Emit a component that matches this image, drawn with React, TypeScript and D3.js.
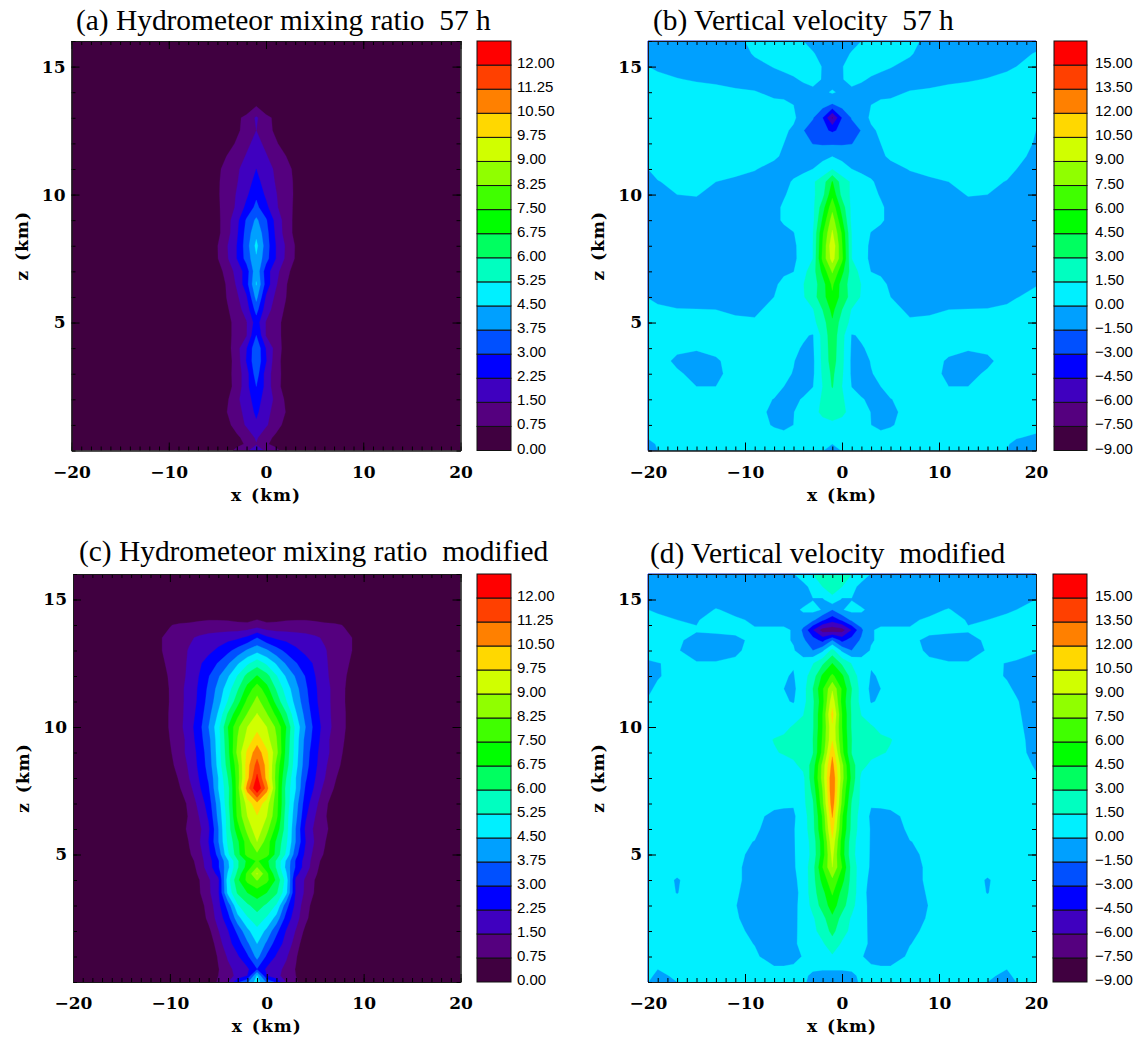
import React, {useRef, useEffect} from 'react';
import * as d3 from 'd3';

// shared colour table, one colour per level, dark purple up to red
const bandColors = ['#400040', '#55007f', '#3f00bf', '#0000ff', '#0050ff', '#00a0ff', '#00f0ff', '#00ffc0', '#00ff60', '#00ff00', '#40ff00', '#90ff00', '#d0ff00', '#ffd800', '#ff8000', '#ff4000', '#ff0000'];
const mixingLevels = [0, 0.75, 1.5, 2.25, 3, 3.75, 4.5, 5.25, 6, 6.75, 7.5, 8.25, 9, 9.75, 10.5, 11.25, 12];
const velocityLevels = [-9, -7.5, -6, -4.5, -3, -1.5, 0, 1.5, 3, 4.5, 6, 7.5, 9, 10.5, 12, 13.5, 15];

const xMajorTicks = [-20, -10, 0, 10, 20];
const zMajorTicks = [5, 10, 15];
const xMinorTicks = d3.range(-20, 21);
const zMinorTicks = d3.range(0, 17);

// The fields are symmetric about x = -1 km, so each row lists values going outward from that axis.
// Columns are the distance from the axis in km, rows are heights in km. A short row is zero beyond its end.
const mixingAOffsets = [0, 1, 2, 3, 4, 5, 19, 21];
const mixingAHeights = [0, 0.25, 0.5, 1, 1.5, 2, 2.5, 3, 3.5, 4, 4.5, 5, 5.5, 6, 6.5, 7, 7.5, 8, 8.5, 9, 9.5, 10, 10.5, 11, 11.5, 12, 12.5, 13, 13.5, 14, 16];
const mixingAValues = [
	[1.8, 1.4, 1, 0.35],
	[1.45, 0.85, 0.5, 0.2],
	[1.6, 1, 0.6, 0.2],
	[2.1, 1.6, 1.05, 0.55],
	[2.4, 1.75, 1.2, 0.75, 0.3],
	[2.5, 2, 1.3, 0.65, 0.2],
	[3, 2, 1, 0.5],
	[3.4, 1.9, 1.1, 0.45],
	[3.6, 2.3, 1.05, 0.45],
	[3.6, 2.2, 1.2, 0.45],
	[3, 1.45, 1.1, 0.45],
	[2.6, 1.45, 1.1, 0.45],
	[3.3, 1.8, 1.2, 0.65],
	[4, 2.15, 1.35, 0.8, 0.1],
	[4.55, 2.7, 1.6, 0.85, 0.2],
	[4.3, 2.6, 1.75, 1.05, 0.4],
	[4.4, 3.3, 2.25, 1.4, 0.7],
	[4.7, 3.4, 2.25, 1.45, 0.72],
	[4.3, 3.3, 2.1, 1.2, 0.55],
	[3.9, 3.1, 2, 1.2, 0.55],
	[3.2, 2.45, 1.6, 1.15, 0.6],
	[2.85, 2.1, 1.55, 1.1, 0.65],
	[2.5, 1.9, 1.45, 1.05, 0.65],
	[2.25, 1.75, 1.4, 1, 0.6],
	[1.95, 1.55, 1.2, 0.78, 0.3],
	[1.7, 1.35, 0.85, 0.4],
	[1.5, 1.05, 0.6],
	[1.6, 1, 0.55],
	[0.65],
	[0],
	[0],
];

const mixingCOffsets = [0, 1, 2, 3, 4, 5, 6, 7, 8, 9, 10, 12, 19, 21];
const mixingCHeights = [0, 0.25, 0.5, 1, 1.5, 2, 2.5, 3, 3.5, 4, 4.25, 4.5, 4.75, 5, 5.5, 6, 6.5, 7, 7.6, 8, 8.5, 9, 9.5, 10, 10.5, 11, 11.5, 12, 12.5, 13, 13.5, 14, 14.3, 14.5, 16];
const mixingCValues = [
	[4.9, 3.6, 2.8, 1.45, 0.85, 0.3],
	[4.6, 2.25, 1.7, 1.2, 0.75],
	[2.95, 2.1, 1.75, 1.3, 0.7],
	[4, 2.85, 2.15, 1.6, 0.85],
	[4.5, 3.6, 2.6, 2, 1.15, 0.2],
	[5.05, 4.3, 3.2, 2.2, 1.45, 0.55],
	[5.65, 5.15, 4.2, 2.7, 1.8, 0.95, 0.2],
	[6.35, 5.85, 5.15, 3.3, 2, 1.05, 0.4],
	[7.1, 6.75, 6.1, 4.7, 2.1, 1.35, 0.65],
	[8.3, 7.7, 6.6, 4.9, 2.05, 1.4, 0.7],
	[9.1, 7.7, 6.2, 4.6, 2.5, 1.6, 0.9, 0.1],
	[8.25, 7.05, 5.9, 4.3, 2.9, 1.85, 1.05, 0.2],
	[7.6, 6.9, 5.9, 4.4, 2.9, 1.9, 1.1, 0.4],
	[8.1, 7.8, 6.45, 5.1, 3.25, 2.05, 1.2, 0.65],
	[9, 7.9, 6.6, 5.4, 3.7, 2.25, 1.4, 0.8],
	[9.5, 8.5, 7.2, 5.6, 3.7, 2.1, 1.3, 0.95, 0.35],
	[9.7, 9, 7.7, 5.6, 3.95, 2.35, 1.5, 0.85, 0.2],
	[10.3, 9.3, 7.8, 5.8, 4.1, 2.6, 1.7, 0.95, 0.3],
	[12.7, 10.9, 7.9, 5.75, 4.5, 2.9, 2.1, 1.25, 0.7, 0.1],
	[12.2, 10.2, 7.9, 6, 4.5, 3.1, 2.25, 1.5, 0.85, 0.3],
	[11.55, 10.2, 8, 6.35, 4.75, 3.3, 2.4, 1.6, 1.1, 0.5],
	[10.95, 9.9, 8.5, 6.5, 4.85, 3.4, 2.45, 1.75, 1.2, 0.65, 0.1],
	[10.15, 9.3, 8.3, 6.6, 4.9, 3.5, 2.65, 1.75, 1.2, 0.75, 0.15],
	[9.5, 9, 8.1, 6.75, 5, 3.75, 2.7, 1.9, 1.3, 0.85, 0.15],
	[9.05, 8.3, 7.3, 6.1, 4.6, 3.5, 2.55, 1.8, 1.3, 0.85, 0.15],
	[8.5, 7.7, 6.45, 5.3, 4.2, 3.3, 2.4, 1.75, 1.3, 0.8, 0.15],
	[7.95, 7, 5.9, 4.9, 4, 3.15, 2.35, 1.75, 1.3, 0.8, 0.25],
	[6.8, 6.25, 5.3, 4.4, 3.65, 2.95, 2.25, 1.65, 1.25, 0.85, 0.4],
	[5.65, 5.1, 4.4, 3.65, 3.05, 2.6, 2.1, 1.6, 1.25, 0.95, 0.55],
	[4.25, 3.85, 3.3, 2.8, 2.4, 2.05, 1.8, 1.55, 1.25, 0.95, 0.7],
	[3, 2.4, 2.1, 2, 1.85, 1.75, 1.6, 1.4, 1.15, 0.95, 0.7],
	[1.1, 0.9, 0.92, 0.95, 0.98, 1, 0.98, 0.95, 0.9, 0.7, 0.3],
	[0.6, 0.45, 0.5, 0.6, 0.6, 0.6, 0.5, 0.3, 0.1],
	[0],
	[0],
];

const velocityOffsets = [0, 1, 2, 3, 4, 5, 6, 8, 10, 12, 14, 16, 18, 19, 21];
const velocityBHeights = [0, 0.25, 0.5, 1, 1.5, 2, 2.5, 3, 3.5, 4, 4.5, 5, 5.5, 6, 6.5, 7, 7.5, 8, 8.5, 9, 9.5, 10, 10.5, 11, 11.5, 12, 12.5, 13, 13.5, 14, 14.5, 15, 15.5, 16];
const velocityBValues = [
	[-0.4, 0.05, 0.3, 0.3, 0.3, 0.3, 0.3, 0.2, 0.25, 0.25, 0.25, 0.1, 0, -0.4, -0.5],
	[0, 0.3, 0.3, 0.3, 0.3, 0.3, 0.3, 0.2, 0.3, 0.3, 0.3, 0.2, 0.05, -0.15, -0.3],
	[0.5, 0.4, 0.3, 0.25, 0.2, 0.2, 0.2, 0.2, 0.3, 0.3, 0.3, 0.3, 0.1, 0.03, -0.1],
	[1.1, 0.8, 0.5, 0.25, 0, -0.15, -0.05, 0.2, 0.3, 0.35, 0.4, 0.4, 0.35, 0.3, 0.2],
	[2.3, 1.95, 0.8, 0.25, -0.02, -0.2, -0.2, 0.3, 0.25, 0.3, 0.35, 0.35, 0.35, 0.4, 0.5],
	[2.3, 1.7, 0.7, 0.08, -0.2, -0.2, -0.02, 0.2, 0.25, 0.2, 0.25, 0.3, 0.3, 0.4, 0.5],
	[3.1, 1.5, -0.05, -0.35, -0.2, 0, 0.2, 0.3, 0.2, 0, 0, 0.2, 0.3, 0.4, 0.5],
	[3.3, 1.7, -0.25, -0.4, -0.05, 0.2, 0.25, 0.3, 0.1, -0.06, -0.2, 0.1, 0.3, 0.4, 0.6],
	[3.7, 1.85, -0.3, -0.4, 0.05, 0.25, 0.3, 0.3, 0.15, -0.05, -0.2, -0.15, 0.3, 0.5, 0.7],
	[3.8, 1.9, -0.2, -0.1, 0.2, 0.3, 0.3, 0.25, 0.2, 0.1, 0.05, 0.15, 0.35, 0.5, 0.7],
	[3.9, 2, -0.1, 0.15, 0.3, 0.4, 0.4, 0.2, 0.2, 0.15, 0.15, 0.15, 0.35, 0.5, 0.7],
	[4.3, 2.3, 1.1, 0.8, 0.6, 0.4, 0.2, 0.1, 0.12, 0.15, 0.2, 0.2, 0.3, 0.4, 0.6],
	[4.9, 3, 1.4, 0.9, 0.7, 0.5, 0.25, -0.15, -0.1, 0, 0.03, 0.05, 0.15, 0.25, 0.4],
	[5.7, 3.9, 2.4, 1.35, 0.9, 0.45, 0, -0.4, -0.5, -0.5, -0.5, -0.45, -0.2, -0.03, 0.2],
	[6.3, 3.8, 2.3, 1.45, 0.9, 0.3, -0.2, -0.5, -0.6, -0.6, -0.6, -0.6, -0.4, -0.25, -0.05],
	[7.7, 4.9, 2.3, 1, -0.05, -0.2, -0.3, -0.55, -0.6, -0.7, -0.7, -0.7, -0.6, -0.4, -0.2],
	[9.7, 6.4, 1.5, 0.4, -0.2, -0.4, -0.5, -0.6, -0.7, -0.7, -0.7, -0.7, -0.7, -0.6, -0.4],
	[10.2, 6.1, 1.5, 0.45, -0.2, -0.4, -0.5, -0.6, -0.7, -0.7, -0.7, -0.7, -0.7, -0.6, -0.4],
	[9.2, 5.8, 1.4, 0.6, -0.05, -0.3, -0.5, -0.6, -0.7, -0.7, -0.7, -0.7, -0.7, -0.6, -0.4],
	[8.3, 4.7, 1.1, 0.7, 0.5, 0.15, -0.3, -0.6, -0.7, -0.7, -0.7, -0.7, -0.7, -0.6, -0.4],
	[7, 3.8, 1.1, 0.8, 0.5, 0.15, -0.3, -0.6, -0.7, -0.6, -0.3, -0.3, -0.5, -0.6, -0.5],
	[5.6, 2.5, 1.2, 0.8, 0.3, -0.1, -0.5, -0.6, -0.7, -0.3, 0.05, 0, -0.2, -0.3, -0.5],
	[4.6, 2.2, 1.3, 0.7, 0.15, -0.4, -0.5, -0.3, -0.1, 0, 0.2, 0.15, -0.03, -0.15, -0.45],
	[1.4, 0.6, 0, -0.4, -0.5, -0.5, -0.3, 0.05, 0.15, 0.2, 0.3, 0.3, 0.2, 0, -0.35],
	[-0.05, -0.4, -0.7, -0.7, -0.55, -0.15, 0.15, 0.3, 0.3, 0.4, 0.5, 0.45, 0.4, 0.25, -0.25],
	[-1.7, -1.7, -1.55, -1, -0.5, 0, 0.2, 0.5, 0.5, 0.5, 0.6, 0.6, 0.6, 0.45, -0.1],
	[-3.2, -2.7, -2.1, -1.45, -0.2, 0.2, 0.3, 0.5, 0.6, 0.6, 0.6, 0.7, 0.8, 0.7, 0],
	[-6.3, -3, -1.4, -0.6, 0.2, 0.35, 0.35, 0.5, 0.6, 0.6, 0.6, 0.7, 0.9, 0.9, 0.3],
	[-1.7, -1, -0.9, -0.6, 0, 0.15, 0.2, 0.3, 0.4, 0.5, 0.5, 0.7, 0.9, 1, 0.6],
	[0.2, -0.4, -0.2, -0.3, -0.4, -0.2, -0.2, 0.05, 0.15, 0.3, 0.4, 0.6, 0.8, 0.9, 0.9],
	[-0.9, -0.05, 0.25, 0.1, -0.1, -0.2, -0.4, -0.4, -0.35, -0.2, -0.1, 0.05, 0.3, 0.5, 1],
	[-0.8, -0.05, 0.35, 0.4, 0.3, 0.15, 0.05, -0.3, -0.6, -0.6, -0.5, -0.4, -0.2, 0, 0.5],
	[-0.8, -0.2, 0.05, 0.25, 0.4, 0.4, 0.4, 0.1, -0.5, -0.7, -0.7, -0.6, -0.4, -0.2, 0.05],
	[-0.8, -0.3, -0.2, 0, 0.3, 0.4, 0.5, 0.3, -0.3, -0.7, -0.8, -0.8, -0.6, -0.5, -0.3],
];

const velocityDHeights = [0, 0.25, 0.5, 1, 1.5, 2, 2.5, 3, 3.5, 4, 4.5, 5, 5.5, 6, 6.5, 7, 7.5, 8, 8.5, 9, 9.5, 10, 10.5, 11, 11.5, 12, 12.5, 13, 13.4, 13.8, 14.2, 14.6, 15, 15.5, 16];
const velocityDValues = [
	[-0.5, -0.5, -0.2, 0.1, 0.2, 0.2, 0.2, 0.2, 0.2, 0.2, 0.2, 0, -0.4, 0.02, 0.2],
	[-0.3, -0.3, -0.1, 0.1, 0.15, 0.15, 0.15, 0.2, 0.2, 0.2, 0.2, 0.15, -0.2, 0.2, 0.2],
	[0.05, 0.05, 0.05, 0.2, 0.1, 0.1, 0.1, 0.2, 0.2, 0.2, 0.2, 0.25, 0, 0.3, 0.3],
	[1.3, 0.8, 0.4, 0.03, -0.15, -0.3, -0.3, 0.1, 0.3, 0.3, 0.3, 0.3, 0.3, 0.3, 0.3],
	[2.4, 1.3, 0.9, 0.25, -0.15, -0.4, -0.5, -0.02, 0.2, 0.3, 0.3, 0.3, 0.3, 0.3, 0.3],
	[3.4, 2.1, 1.1, 0.3, -0.2, -0.5, -0.6, -0.2, 0.2, 0.3, 0.3, 0.3, 0.3, 0.3, 0.3],
	[4.2, 2.5, 1.3, 0.35, -0.25, -0.6, -0.7, -0.4, 0.1, 0.3, 0.3, 0.3, 0.3, 0.3, 0.3],
	[5.2, 3.6, 2, 0.4, -0.3, -0.6, -0.6, -0.3, 0.02, 0.25, 0.25, 0.2, 0.25, 0.3, 0.3],
	[6.2, 4, 2.4, 0.4, -0.4, -0.6, -0.6, -0.2, 0.05, 0.25, 0.25, -0.02, 0.25, 0.3, 0.3],
	[7.2, 5, 2.4, 0.5, -0.3, -0.6, -0.6, -0.2, 0.1, 0.25, 0.25, -0.05, 0.25, 0.3, 0.3],
	[9, 6, 2.4, 0.6, -0.15, -0.6, -0.6, -0.2, 0.1, 0.25, 0.25, 0.2, 0.25, 0.3, 0.3],
	[9.5, 5.2, 2, 0.5, -0.1, -0.5, -0.5, -0.1, 0.1, 0.25, 0.25, 0.25, 0.25, 0.3, 0.3],
	[10.2, 5.3, 2.1, 0.6, -0.1, -0.5, -0.5, -0.02, 0.15, 0.25, 0.25, 0.25, 0.25, 0.3, 0.3],
	[11.2, 6, 2.5, 0.7, -0.1, -0.4, -0.4, 0.15, 0.2, 0.25, 0.25, 0.25, 0.25, 0.3, 0.3],
	[12.1, 6.2, 2.6, 0.75, -0.2, -0.25, -0.2, 0.2, 0.2, 0.25, 0.25, 0.25, 0.25, 0.3, 0.3],
	[13, 7.1, 2.8, 1.1, 0.1, 0.15, 0.2, 0.3, 0.3, 0.3, 0.3, 0.3, 0.3, 0.3, 0.3],
	[13.5, 7.5, 3.4, 1.1, 0.7, 0.5, 0.4, 0.3, 0.3, 0.3, 0.3, 0.3, 0.3, 0.3, 0.2],
	[13.4, 8.1, 4, 1.1, 0.8, 0.6, 0.4, 0.3, 0.3, 0.3, 0.3, 0.3, 0.3, 0.2, 0.05],
	[12.6, 8, 3.6, 1.9, 1.2, 0.6, 0.3, 0.3, 0.3, 0.3, 0.3, 0.3, 0.3, 0.2, -0.05],
	[11.7, 6.5, 2.9, 2.2, 1.9, 1.7, 1.3, 0.3, 0.3, 0.3, 0.3, 0.3, 0.3, 0.2, -0.2],
	[10.4, 6.2, 3, 2.2, 2, 1.85, 1.6, 0.3, 0.3, 0.3, 0.3, 0.3, 0.3, 0.2, -0.25],
	[10.3, 6, 2.8, 1.9, 1.7, 1, 0.6, 0.2, 0.3, 0.3, 0.3, 0.3, 0.25, 0.15, -0.3],
	[11, 6, 2.8, 1.45, 0.6, 0.5, 0.4, 0.3, 0.3, 0.3, 0.3, 0.3, 0.2, 0.1, -0.35],
	[10, 5.5, 2.7, 1, -0.1, 0.15, 0.3, 0.3, 0.3, 0.3, 0.3, 0.25, 0.15, 0.05, -0.4],
	[8.8, 5.8, 3, 0.9, -0.3, 0, 0.3, 0.3, 0.3, 0.3, 0.3, 0.2, 0.1, -0.1, -0.4],
	[6.3, 4.8, 2.2, 0.9, -0.1, 0.1, 0.3, 0.3, 0.25, 0.25, 0.25, 0.2, -0.05, -0.2, -0.4],
	[4.5, 2.7, 1.4, 0.6, 0.1, 0.3, 0.3, 0.3, 0.1, 0.05, 0.05, 0.1, -0.02, -0.05, -0.2],
	[2, -0.3, -1.5, -0.7, 0.1, 0.3, 0.2, 0.2, -0.1, -0.3, -0.3, 0.05, 0.3, 0.15, 0.05],
	[-1.5, -3.5, -2.3, -1.3, -0.1, 0.2, 0.2, 0.2, -0.2, -0.2, -0.2, 0.1, 0.4, 0.6, 0.8],
	[-7, -6.7, -4.5, -1.8, -0.05, 0.1, 0.1, 0.05, 0.2, 0.1, 0.05, 0.2, 0.4, 0.5, 0.8],
	[-3.9, -2.8, -1.2, -0.6, -0.2, -0.2, -0.2, -0.1, 0.1, 0.3, -0.06, 0, 0.15, 0.2, 0.5],
	[-1.5, -0.1, 0.4, 0.2, -0.4, -0.6, -0.5, -0.3, -0.2, 0.05, -0.4, -0.2, -0.1, 0, 0.3],
	[1.1, -0.2, -0.05, -0.6, -0.9, -0.9, -0.8, -0.6, -0.5, -0.4, -0.6, -0.5, -0.4, -0.3, 0],
	[2.2, 1.5, 0.4, -0.4, -0.7, -0.8, -0.8, -0.7, -0.7, -0.6, -0.7, -0.6, -0.6, -0.5, -0.3],
	[2.6, 2.2, 1.5, 0.7, -0.05, -0.4, -0.6, -0.7, -0.7, -0.7, -0.7, -0.7, -0.7, -0.6, -0.5],
];

const panels = [
	{title: '(a) Hydrometeor mixing ratio  57 h', titleX: 76, titleY: 30, left: 71.5, right: 460.5, top: 41, bottom: 450.5, barLeft: 477, barRight: 511, labelX: 517, levels: mixingLevels, offsets: mixingAOffsets, heights: mixingAHeights, values: mixingAValues},
	{title: '(b) Vertical velocity  57 h', titleX: 653, titleY: 30, left: 648, right: 1036, top: 41, bottom: 450.5, barLeft: 1054, barRight: 1087, labelX: 1095, levels: velocityLevels, offsets: velocityOffsets, heights: velocityBHeights, values: velocityBValues},
	{title: '(c) Hydrometeor mixing ratio  modified', titleX: 79, titleY: 561, left: 73, right: 460.5, top: 574, bottom: 982, barLeft: 477, barRight: 511, labelX: 517, levels: mixingLevels, offsets: mixingCOffsets, heights: mixingCHeights, values: mixingCValues},
	{title: '(d) Vertical velocity  modified', titleX: 650, titleY: 563, left: 648, right: 1036, top: 574, bottom: 982, barLeft: 1053, barRight: 1087, labelX: 1095, levels: velocityLevels, offsets: velocityOffsets, heights: velocityDHeights, values: velocityDValues},
];

const axisFont = '"DejaVu Serif", serif';
const AXIS_CENTER = -1;

// mirror the half table into a full grid, left edge is 19 km from the axis and right edge 21 km
function buildGrid(panel) {
	const leftOffsets = panel.offsets.filter(o => o > 0 && o <= 19).reverse();
	const rightOffsets = panel.offsets;
	const xs = [...leftOffsets.map(o => AXIS_CENTER - o), ...rightOffsets.map(o => AXIS_CENTER + o)];
	const grid = [];
	panel.values.forEach(row => {
		const at = o => row[panel.offsets.indexOf(o)] ?? 0;
		leftOffsets.forEach(o => grid.push(at(o)));
		rightOffsets.forEach(o => grid.push(at(o)));
	});
	return {xs, grid};
}

// grid node i sits at i + 0.5 in d3.contours space, so the half cells at the rim collapse on the edge
function nodeScale(nodes, outer) {
	const domain = [0, ...nodes.map((_, i) => i + 0.5), nodes.length];
	const range = [nodes[0], ...nodes, nodes[nodes.length - 1]];
	return d3.scaleLinear().domain(domain).range(range.map(outer));
}

function drawPanel(root, panel) {
	const xScale = d3.scaleLinear().domain([-20, 20]).range([panel.left, panel.right]);
	const zScale = d3.scaleLinear().domain([0, 16]).range([panel.bottom, panel.top]);
	const {xs, grid} = buildGrid(panel);
	const nx = xs.length;
	const nz = panel.heights.length;
	const colMap = nodeScale(xs, xScale);
	const rowMap = nodeScale(panel.heights, zScale);
	const color = d3.scaleOrdinal(panel.levels, bandColors);

	const g = root.append('g');

	// 1. filled contours, painted from the lowest level up
	const contours = d3.contours().size([nx, nz]).thresholds(panel.levels.slice(1))(grid);
	const path = d3.geoPath(d3.geoTransform({
		point(x, y) {
			this.stream.point(colMap(x), rowMap(y));
		},
	}));
	g.append('rect')
		.attr('x', panel.left)
		.attr('y', panel.top)
		.attr('width', panel.right - panel.left)
		.attr('height', panel.bottom - panel.top)
		.attr('fill', bandColors[0]);
	g.selectAll('.band')
		.data(contours)
		.join('path')
		.attr('d', path)
		.attr('fill', d => color(d.value))
		.attr('stroke', d => color(d.value))
		.attr('stroke-width', 0.3);

	// 2. axes on all four sides, ticks pointing into the plot
	const sides = [
		{axis: d3.axisBottom(xScale), at: `translate(0, ${panel.bottom})`, major: xMajorTicks, minor: xMinorTicks, labelled: true},
		{axis: d3.axisTop(xScale), at: `translate(0, ${panel.top})`, major: xMajorTicks, minor: xMinorTicks, labelled: false},
		{axis: d3.axisLeft(zScale), at: `translate(${panel.left}, 0)`, major: zMajorTicks, minor: zMinorTicks, labelled: true},
		{axis: d3.axisRight(zScale), at: `translate(${panel.right}, 0)`, major: zMajorTicks, minor: zMinorTicks, labelled: false},
	];
	sides.forEach(side => {
		g.append('g')
			.attr('transform', side.at)
			.call(side.axis.tickValues(side.minor).tickSizeInner(-4).tickSizeOuter(0).tickFormat(() => ''));
		g.append('g')
			.attr('transform', side.at)
			.call(side.axis.tickValues(side.major).tickSizeInner(-8).tickSizeOuter(0).tickPadding(side.labelled ? 15 : 0).tickFormat(side.labelled ? d3.format('d') : () => ''));
	});
	g.selectAll('.domain').attr('stroke', '#1a1a1a');
	g.selectAll('.tick line').attr('stroke', '#000');
	g.selectAll('.tick text')
		.attr('font-family', axisFont)
		.attr('font-weight', 'bold')
		.attr('font-size', 17)
		.attr('fill', '#000');
	// left labels sit closer to the frame than the bottom ones
	g.selectAll('g')
		.filter((_, i, nodes) => nodes[i].getAttribute('text-anchor') === 'end')
		.selectAll('.tick text')
		.attr('x', -6);

	// 3. axis titles and panel title
	g.append('text')
		.attr('x', xScale(0))
		.attr('y', panel.bottom + 50)
		.attr('text-anchor', 'middle')
		.attr('font-family', axisFont)
		.attr('font-weight', 'bold')
		.attr('font-size', 17)
		.attr('letter-spacing', 1)
		.attr('word-spacing', 2)
		.text('x (km)');
	g.append('text')
		.attr('transform', `translate(${panel.left - 44}, ${(panel.top + panel.bottom) / 2}) rotate(-90)`)
		.attr('text-anchor', 'middle')
		.attr('font-family', axisFont)
		.attr('font-weight', 'bold')
		.attr('font-size', 17)
		.attr('letter-spacing', 1)
		.attr('word-spacing', 2)
		.text('z (km)');
	g.append('text')
		.attr('x', panel.titleX)
		.attr('y', panel.titleY)
		.attr('font-family', '"Liberation Serif", serif')
		.attr('font-size', 29.4)
		.style('white-space', 'pre')
		.text(panel.title);

	// 4. colour bar, every level labelled at the lower edge of its cell
	const barScale = d3.scaleBand().domain(panel.levels.map(String)).range([panel.bottom, panel.top]);
	const label = d3.format('.2f');
	g.selectAll('.cell')
		.data(panel.levels)
		.join('rect')
		.attr('x', panel.barLeft)
		.attr('y', d => barScale(String(d)))
		.attr('width', panel.barRight - panel.barLeft)
		.attr('height', barScale.bandwidth())
		.attr('fill', d => color(d))
		.attr('stroke', '#111')
		.attr('stroke-width', 1);
	g.selectAll('.cell-label')
		.data(panel.levels)
		.join('text')
		.attr('x', panel.labelX)
		.attr('y', d => barScale(String(d)) + barScale.bandwidth() + 3)
		.attr('font-family', '"Liberation Sans", sans-serif')
		.attr('font-size', 15)
		.attr('fill', '#000')
		.text(d => label(d));
}

const App = () => {
	const svgRef = useRef(null);

	useEffect(() => {
		const svg = d3.select(svgRef.current);
		svg.selectAll('*').remove();
		panels.forEach(panel => drawPanel(svg, panel));
	}, []);

	return (
		<svg
			ref={svgRef}
			width={1141}
			height={1040}
			style={{position: 'absolute', left: 0, top: 0, background: '#fff'}}
		></svg>
	);
};

export default App;
